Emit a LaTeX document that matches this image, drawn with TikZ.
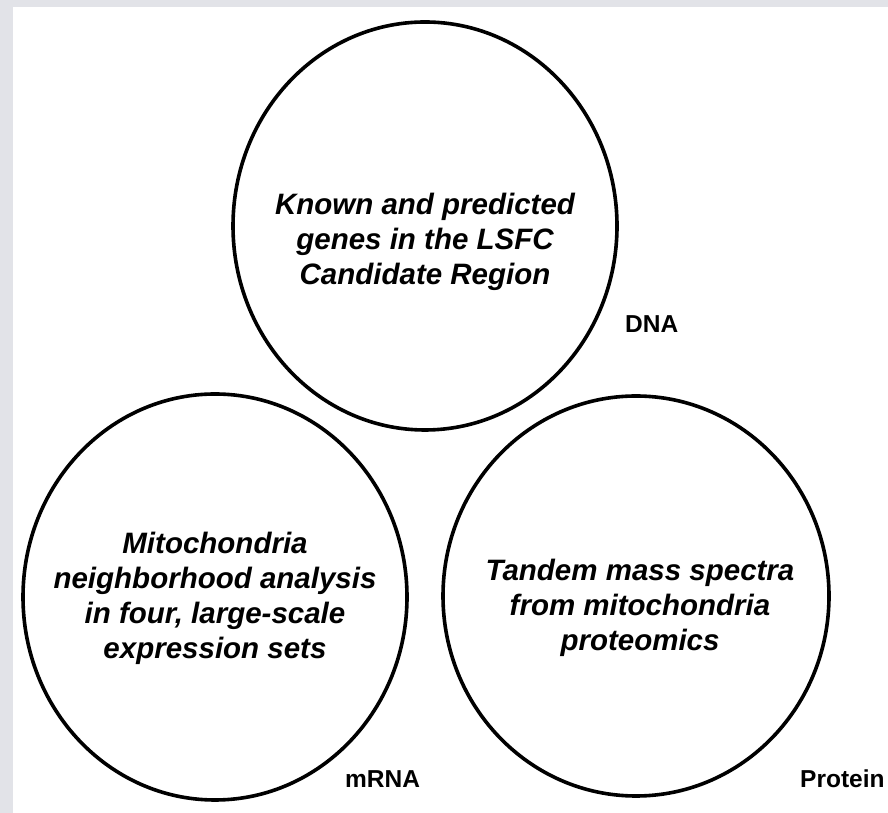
\documentclass[tikz,border=0pt]{standalone}
\usepackage{fontspec}
\setmainfont{Liberation Sans}
\definecolor{frame}{RGB}{226,227,232}
\begin{document}
\begin{tikzpicture}[x=1pt,y=1pt,
  field/.style={draw=black,line width=3.6pt},
  fieldtext/.style={align=center,font=\fontsize{29.5}{35}\selectfont\bfseries\itshape},
  layer/.style={font=\fontsize{24.5}{28}\selectfont\bfseries,anchor=base west,inner sep=0pt}]
  % page frame
  \useasboundingbox (0,0) rectangle (888,813);
  \fill[white] (0,0) rectangle (888,813);
  \fill[frame] (0,806) rectangle (888,813);
  \fill[frame] (0,0) rectangle (13,813);
  % three evidence fields
  \draw[field] (425,587) ellipse [x radius=192, y radius=204];
  \draw[field] (215,216) ellipse [x radius=192, y radius=203];
  \draw[field] (636,217) ellipse [x radius=193, y radius=200];
  % contents
  \node[fieldtext] (dnatext) at (425,571) {Known and predicted\\genes in the LSFC\\Candidate Region};
  \node[fieldtext] (rnatext) at (215,215) {Mitochondria\\neighborhood analysis\\in four, large-scale\\expression sets};
  \node[fieldtext] (prottext) at (640,205) {Tandem mass spectra\\from mitochondria\\proteomics};
  % layer labels
  \node[layer] (dna) at (625,480) {DNA};
  \node[layer] (mrna) at (345,25) {mRNA};
  \node[layer] (protein) at (800,25) {Protein};
\end{tikzpicture}
\end{document}
